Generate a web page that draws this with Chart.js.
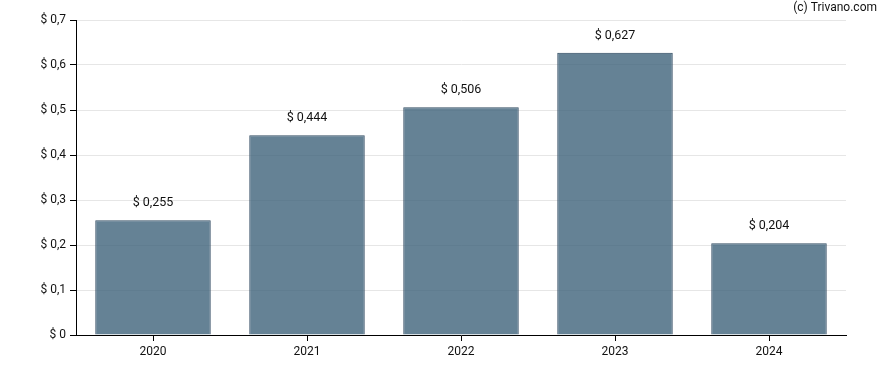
<!DOCTYPE html>
<html>
<head>
<meta charset="utf-8">
<script src="https://cdn.jsdelivr.net/npm/chart.js@4/dist/chart.umd.min.js"></script>
<style>
    html, body { margin: 0; padding: 0; background: #fff; }
    #wrap { position: relative; width: 888px; height: 370px; }
</style>
</head>
<body>
<div id="wrap"><canvas id="divChart"></canvas></div>
<script>
const years = ["2020", "2021", "2022", "2023", "2024"];
const dividends = [0.255, 0.444, 0.506, 0.627, 0.204];

function fmt(v, digits) {
    return "$ " + v.toFixed(digits).replace(".", ",");
}

// labels above each bar + the copyright note
const barLabels = {
    id: "barLabels",
    afterDatasetsDraw(chart) {
        const ctx = chart.ctx;
        const meta = chart.getDatasetMeta(0);
        ctx.save();
        ctx.font = "12.5px Roboto";
        ctx.fillStyle = "#111";
        ctx.textAlign = "center";
        ctx.textBaseline = "middle";
        meta.data.forEach(function (bar, i) {
            ctx.fillText(fmt(dividends[i], 3), bar.x, bar.y - 17);
        });
        ctx.font = "12px Roboto";
        ctx.textAlign = "right";
        ctx.fillText("(c) Trivano.com", 877, 8);
        ctx.restore();
    },
};

new Chart(document.getElementById("divChart"), {
    type: "bar",
    data: {
        labels: years,
        datasets: [
            {
                data: dividends,
                backgroundColor: "rgba(60, 96, 120, 0.79)",
                borderColor: "rgba(52, 78, 100, 1)",
                borderWidth: 1,
                barPercentage: 0.75,
                categoryPercentage: 1,
            },
        ],
    },
    options: {
        responsive: true,
        maintainAspectRatio: false,
        animation: false,
        layout: { padding: { top: 20, right: 42, left: 0, bottom: 0 } },
        plugins: {
            legend: { display: false },
            tooltip: { enabled: false },
        },
        scales: {
            x: {
                afterFit: function (scale) { scale.height = 35; },
                grid: {
                    offset: false,
                    drawOnChartArea: false,
                    tickColor: "#000",
                    tickLength: 6,
                },
                border: { color: "#000", width: 1 },
                ticks: { color: "#111", font: { family: "Roboto", size: 12 }, padding: 4 },
            },
            y: {
                min: 0,
                max: 0.7,
                afterFit: function (scale) { scale.width = 76; },
                grid: {
                    color: "#e6e6e6",
                    tickColor: "#000",
                    tickLength: 6,
                },
                border: { color: "#000", width: 1 },
                ticks: {
                    stepSize: 0.1,
                    color: "#111",
                    font: { family: "Roboto", size: 12 },
                    padding: 4,
                    callback: function (value) {
                        return value === 0 ? "$ 0" : fmt(value, 1);
                    },
                },
            },
        },
    },
    plugins: [barLabels],
});
</script>
</body>
</html>
